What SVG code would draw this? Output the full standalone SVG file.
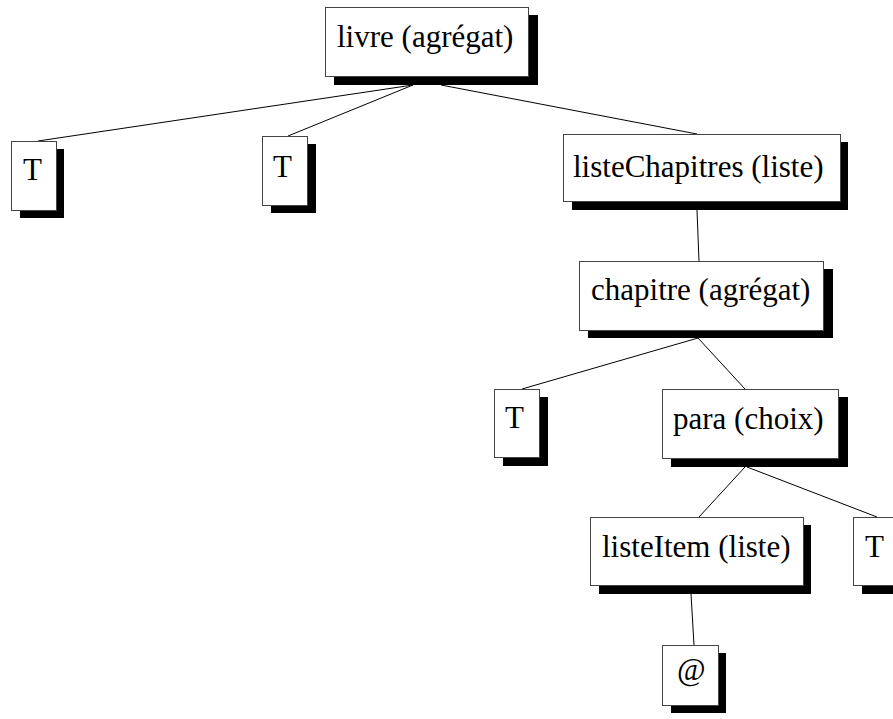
<svg xmlns="http://www.w3.org/2000/svg" width="893" height="719" viewBox="0 0 893 719">
<style>
.sh{fill:#000;stroke:none}
.bx{fill:#fff;stroke:#444;stroke-width:1}
.tx{font-family:"Liberation Serif","Times New Roman",serif;font-size:31px;fill:#000}
.ln{stroke:#000;stroke-width:1;fill:none}
</style>
<rect width="893" height="719" fill="#fff"/>
<g id="connectors">
<line class="ln" x1="413" y1="85" x2="38" y2="141"/>
<line class="ln" x1="413" y1="85" x2="288" y2="136"/>
<line class="ln" x1="441" y1="85" x2="697" y2="134"/>
<line class="ln" x1="697" y1="210" x2="699" y2="261"/>
<line class="ln" x1="698" y1="338" x2="522" y2="389"/>
<line class="ln" x1="698" y1="338" x2="745" y2="389"/>
<line class="ln" x1="745" y1="467" x2="699" y2="517"/>
<line class="ln" x1="747" y1="467" x2="877" y2="517"/>
<line class="ln" x1="691" y1="594" x2="694" y2="645"/>
</g>
<g id="livre">
<rect class="sh" x="334" y="15" width="204" height="70"/>
<rect class="bx" x="325.5" y="7.5" width="203" height="69"/>
<text class="tx" x="337" y="47">livre (agrégat)</text>
</g>
<g id="T1">
<rect class="sh" x="20" y="149" width="44" height="69"/>
<rect class="bx" x="11.5" y="141.5" width="45" height="69"/>
<text class="tx" x="23" y="180">T</text>
</g>
<g id="T2">
<rect class="sh" x="271" y="144" width="45" height="69"/>
<rect class="bx" x="262.5" y="136.5" width="45" height="69"/>
<text class="tx" x="273" y="177">T</text>
</g>
<g id="listeChapitres">
<rect class="sh" x="572" y="142" width="276" height="68"/>
<rect class="bx" x="563.5" y="134.5" width="277" height="67"/>
<text class="tx" x="573" y="177">listeChapitres (liste)</text>
</g>
<g id="chapitre">
<rect class="sh" x="588" y="269" width="245" height="69"/>
<rect class="bx" x="579.5" y="261.5" width="244" height="69"/>
<text class="tx" x="591" y="300">chapitre (agrégat)</text>
</g>
<g id="T3">
<rect class="sh" x="503" y="397" width="45" height="69"/>
<rect class="bx" x="494.5" y="389.5" width="45" height="68"/>
<text class="tx" x="505" y="428">T</text>
</g>
<g id="para">
<rect class="sh" x="671" y="397" width="177" height="70"/>
<rect class="bx" x="662.5" y="389.5" width="176" height="69"/>
<text class="tx" x="673" y="429">para (choix)</text>
</g>
<g id="listeItem">
<rect class="sh" x="599" y="525" width="212" height="69"/>
<rect class="bx" x="590.5" y="517.5" width="213" height="68"/>
<text class="tx" x="602" y="557">listeItem (liste)</text>
</g>
<g id="T4">
<rect class="sh" x="862" y="525" width="45" height="69"/>
<rect class="bx" x="853.5" y="517.5" width="45" height="68"/>
<text class="tx" x="865" y="557">T</text>
</g>
<g id="at">
<rect class="sh" x="671" y="653" width="55" height="60"/>
<rect class="bx" x="662.5" y="645.5" width="56" height="60"/>
<text class="tx" x="677" y="680">@</text>
</g>
</svg>
